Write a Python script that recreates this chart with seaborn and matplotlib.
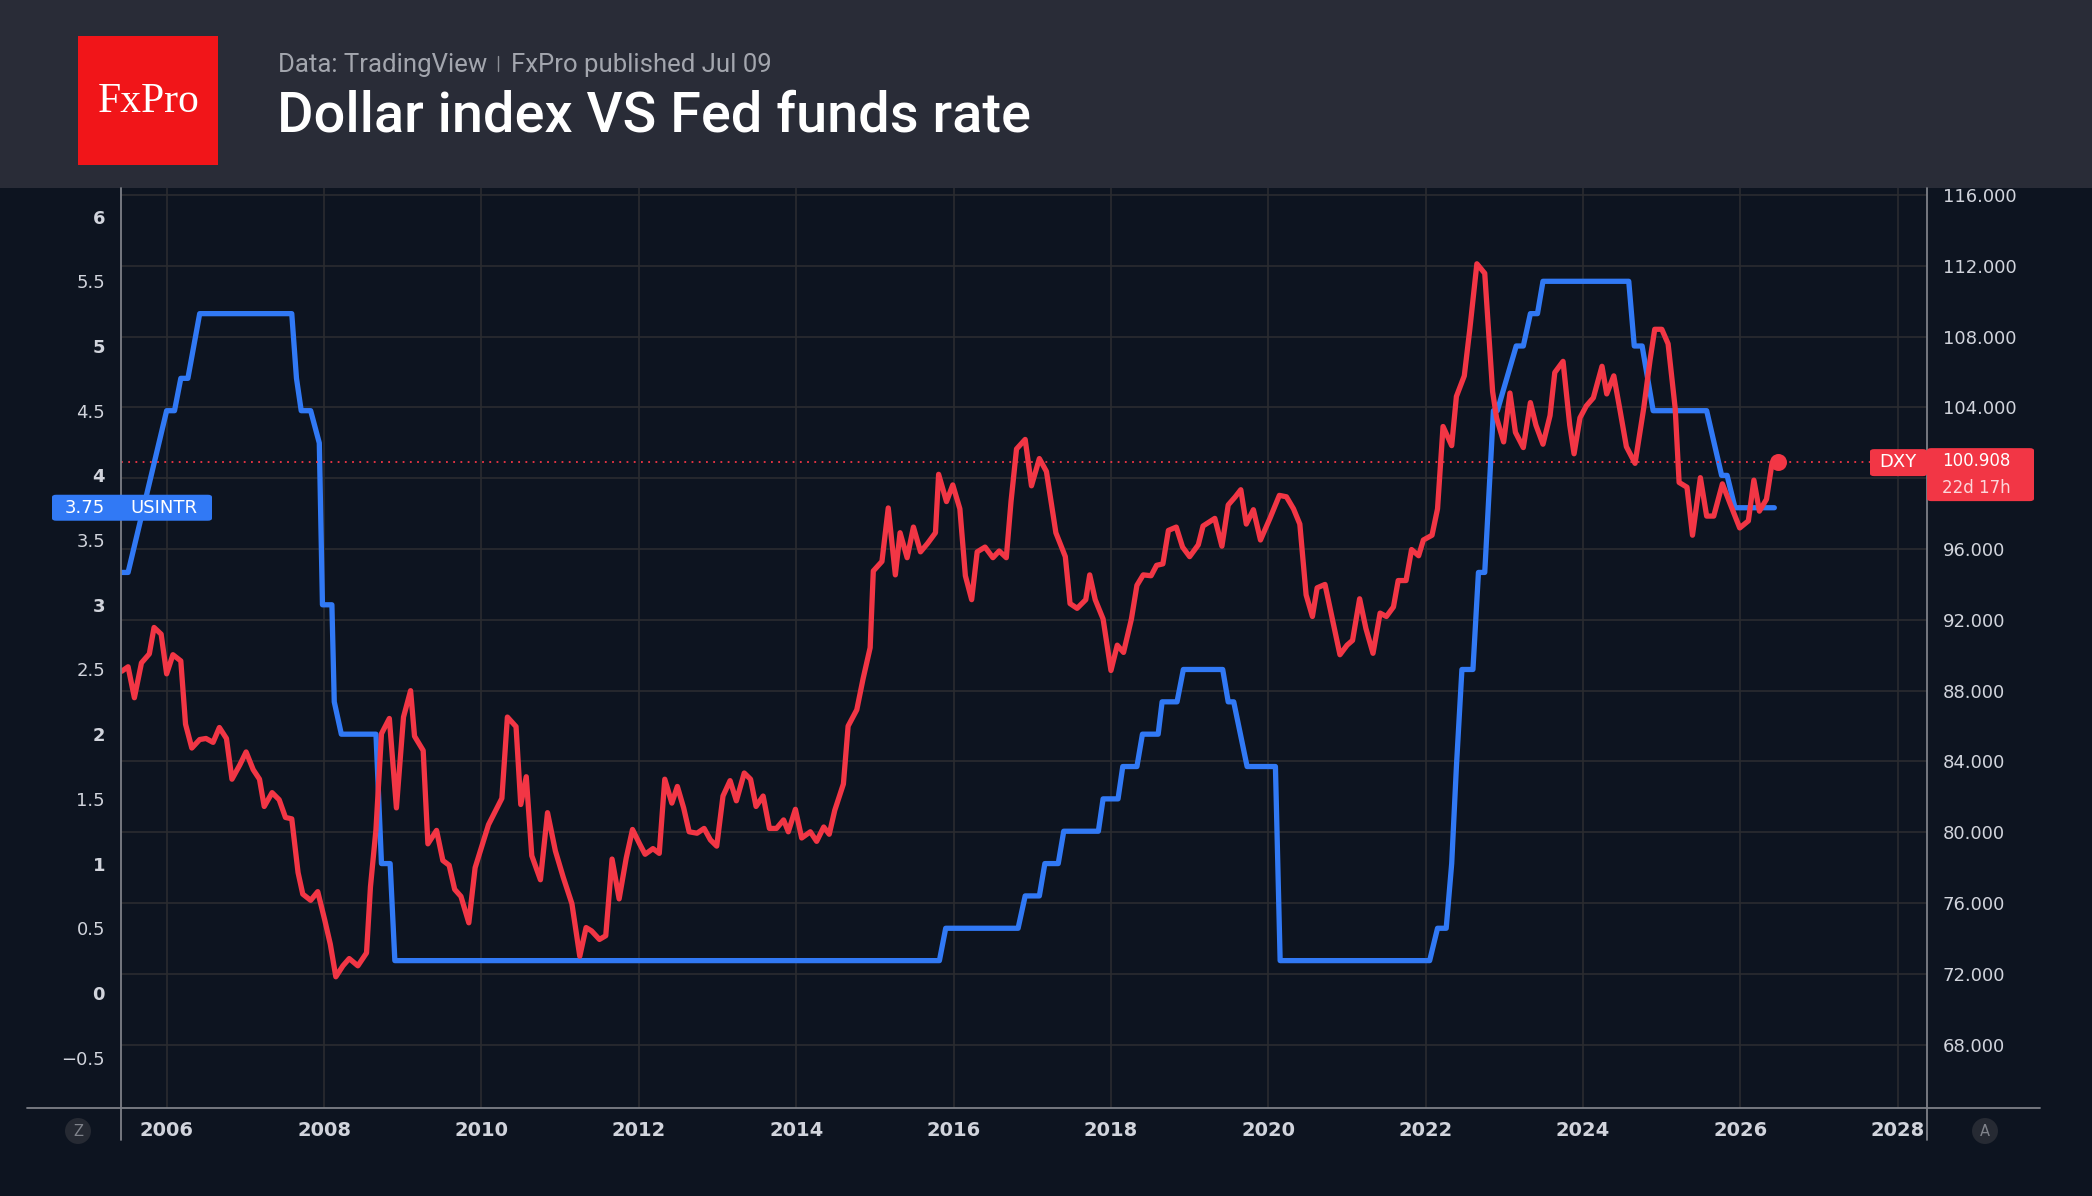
import matplotlib
matplotlib.use("Agg")
import matplotlib.pyplot as plt
import matplotlib.transforms as mtransforms
from matplotlib.patches import Rectangle, FancyBboxPatch, Ellipse
from matplotlib.lines import Line2D
import seaborn as sns

W, H = 2092, 1196
BG = "#0d1420"
HEADER = "#292c37"
GRID = "#2b2c30"
AXLINE = "#7d8088"
TICK = "#d1d4dc"
BLUE = "#3179f5"
RED = "#f23645"

# Fed funds rate (USINTR), corner points
fed_years = [2005.42, 2005.51, 2006.00, 2006.10, 2006.18, 2006.27, 2006.42, 2007.59,
             2007.65, 2007.71, 2007.83, 2007.94, 2007.98, 2008.10, 2008.13, 2008.22,
             2008.66, 2008.73, 2008.84, 2008.90, 2015.82, 2015.90, 2016.82, 2016.91,
             2017.09, 2017.16, 2017.33, 2017.40, 2017.84, 2017.90, 2018.09, 2018.15,
             2018.33, 2018.40, 2018.60, 2018.65, 2018.84, 2018.92, 2019.42, 2019.49,
             2019.56, 2019.73, 2020.09, 2020.15, 2022.05, 2022.15, 2022.26, 2022.33,
             2022.39, 2022.46, 2022.60, 2022.67, 2022.75, 2022.86, 2022.91, 2023.15,
             2023.24, 2023.33, 2023.42, 2023.49, 2024.58, 2024.65, 2024.75, 2024.89,
             2025.57, 2025.76, 2025.83, 2025.93, 2026.43]
fed_rate = [3.25, 3.25, 4.50, 4.50, 4.75, 4.75, 5.25, 5.25,
            4.75, 4.50, 4.50, 4.25, 3.00, 3.00, 2.25, 2.00,
            2.00, 1.00, 1.00, 0.25, 0.25, 0.50, 0.50, 0.75,
            0.75, 1.00, 1.00, 1.25, 1.25, 1.50, 1.50, 1.75,
            1.75, 2.00, 2.00, 2.25, 2.25, 2.50, 2.50, 2.25,
            2.25, 1.75, 1.75, 0.25, 0.25, 0.50, 0.50, 1.00,
            1.75, 2.50, 2.50, 3.25, 3.25, 4.50, 4.50, 5.00,
            5.00, 5.25, 5.25, 5.50, 5.50, 5.00, 5.00, 4.50,
            4.50, 4.00, 4.00, 3.75, 3.75]

# Dollar index (DXY)
dxy_years = [2005.43, 2005.51, 2005.59, 2005.68, 2005.78, 2005.84, 2005.93, 2006.00, 2006.08, 2006.18,
             2006.24, 2006.32, 2006.42, 2006.50, 2006.59, 2006.67, 2006.76, 2006.83, 2006.93, 2007.01,
             2007.10, 2007.18, 2007.24, 2007.34, 2007.43, 2007.51, 2007.59, 2007.67, 2007.73, 2007.83,
             2007.92, 2008.01, 2008.08, 2008.15, 2008.24, 2008.32, 2008.43, 2008.54, 2008.59, 2008.66,
             2008.73, 2008.83, 2008.92, 2009.01, 2009.10, 2009.15, 2009.26, 2009.32, 2009.43, 2009.51,
             2009.59, 2009.66, 2009.74, 2009.84, 2009.92, 2009.99, 2010.09, 2010.26, 2010.33, 2010.44,
             2010.50, 2010.57, 2010.64, 2010.75, 2010.84, 2010.94, 2011.04, 2011.15, 2011.25, 2011.33,
             2011.40, 2011.50, 2011.58, 2011.66, 2011.75, 2011.84, 2011.92, 2012.01, 2012.08, 2012.18,
             2012.26, 2012.33, 2012.42, 2012.49, 2012.57, 2012.64, 2012.74, 2012.83, 2012.91, 2012.99,
             2013.07, 2013.16, 2013.24, 2013.34, 2013.42, 2013.49, 2013.58, 2013.66, 2013.75, 2013.84,
             2013.90, 2013.99, 2014.07, 2014.18, 2014.26, 2014.35, 2014.42, 2014.49, 2014.60, 2014.66,
             2014.77, 2014.85, 2014.94, 2014.98, 2015.09, 2015.17, 2015.26, 2015.32, 2015.41, 2015.49,
             2015.58, 2015.67, 2015.77, 2015.81, 2015.91, 2015.99, 2016.08, 2016.15, 2016.23, 2016.30,
             2016.40, 2016.50, 2016.58, 2016.67, 2016.73, 2016.80, 2016.91, 2016.99, 2017.09, 2017.18,
             2017.30, 2017.42, 2017.48, 2017.57, 2017.68, 2017.73, 2017.80, 2017.90, 2018.00, 2018.08,
             2018.16, 2018.26, 2018.33, 2018.41, 2018.51, 2018.58, 2018.66, 2018.73, 2018.83, 2018.91,
             2019.00, 2019.11, 2019.17, 2019.32, 2019.41, 2019.49, 2019.58, 2019.65, 2019.72, 2019.81,
             2019.90, 2020.02, 2020.14, 2020.23, 2020.32, 2020.40, 2020.48, 2020.56, 2020.62, 2020.72,
             2020.82, 2020.91, 2021.00, 2021.07, 2021.16, 2021.24, 2021.33, 2021.42, 2021.50, 2021.59,
             2021.65, 2021.75, 2021.82, 2021.91, 2021.97, 2022.08, 2022.15, 2022.22, 2022.33, 2022.39,
             2022.49, 2022.56, 2022.65, 2022.75, 2022.85, 2022.90, 2022.99, 2023.07, 2023.14, 2023.24,
             2023.33, 2023.40, 2023.49, 2023.58, 2023.64, 2023.745, 2023.83, 2023.885, 2023.96, 2024.04,
             2024.13, 2024.24, 2024.30, 2024.39, 2024.47, 2024.55, 2024.66, 2024.77, 2024.85, 2024.91,
             2025.00, 2025.08, 2025.17, 2025.22, 2025.32, 2025.39, 2025.49, 2025.57, 2025.66, 2025.77,
             2025.87, 2025.99, 2026.10, 2026.17, 2026.24, 2026.33, 2026.40, 2026.48]
dxy_close = [89.10, 89.35, 87.60, 89.57, 90.08, 91.57, 91.19, 88.95, 90.03, 89.68,
             86.11, 84.76, 85.24, 85.30, 85.08, 85.92, 85.30, 83.00, 83.81, 84.54,
             83.54, 83.00, 81.46, 82.24, 81.84, 80.84, 80.76, 77.73, 76.51, 76.16,
             76.65, 75.03, 73.68, 71.84, 72.46, 72.87, 72.46, 73.19, 76.92, 80.16,
             85.57, 86.43, 81.38, 86.51, 88.00, 85.43, 84.62, 79.35, 80.11, 78.41,
             78.14, 76.78, 76.38, 74.89, 78.00, 79.00, 80.43, 81.92, 86.51, 85.97,
             81.57, 83.14, 78.68, 77.32, 81.11, 78.95, 77.46, 75.97, 73.00, 74.62,
             74.43, 73.95, 74.16, 78.49, 76.24, 78.54, 80.16, 79.35, 78.76, 79.08,
             78.81, 83.00, 81.65, 82.59, 81.38, 80.03, 79.95, 80.22, 79.57, 79.22,
             82.05, 82.92, 81.78, 83.35, 83.00, 81.46, 82.05, 80.22, 80.22, 80.70,
             80.03, 81.30, 79.68, 80.03, 79.49, 80.30, 79.89, 81.24, 82.73, 86.00,
             86.92, 88.67, 90.43, 94.76, 95.30, 98.32, 94.54, 96.92, 95.51, 97.24,
             95.84, 96.32, 96.92, 100.22, 98.68, 99.62, 98.27, 94.49, 93.14, 95.84,
             96.11, 95.51, 95.89, 95.51, 98.68, 101.65, 102.19, 99.57, 101.11, 100.38,
             96.92, 95.57, 92.92, 92.65, 93.14, 94.54, 93.14, 92.05, 89.14, 90.57,
             90.16, 92.05, 93.95, 94.54, 94.49, 95.08, 95.16, 97.05, 97.24, 96.11,
             95.57, 96.24, 97.30, 97.73, 96.16, 98.49, 98.95, 99.35, 97.41, 98.22,
             96.51, 97.73, 99.03, 98.95, 98.27, 97.41, 93.41, 92.19, 93.81, 94.00,
             91.92, 90.03, 90.57, 90.84, 93.19, 91.51, 90.11, 92.38, 92.19, 92.73,
             94.22, 94.22, 95.97, 95.62, 96.51, 96.78, 98.27, 102.92, 101.84, 104.62,
             105.78, 108.41, 112.11, 111.57, 104.89, 103.41, 102.05, 104.81, 102.59, 101.73,
             104.27, 103.00, 101.92, 103.54, 105.97, 106.60, 103.00, 101.38, 103.41, 104.08,
             104.54, 106.32, 104.76, 105.78, 103.81, 101.78, 100.84, 103.95, 106.65, 108.41,
             108.41, 107.59, 103.95, 99.76, 99.49, 96.78, 100.03, 97.86, 97.86, 99.68,
             98.54, 97.19, 97.59, 99.89, 98.14, 98.81, 100.84, 100.908]

year_ticks = list(range(2006, 2029, 2))
rate_ticks = [6, 5.5, 5, 4.5, 4, 3.5, 3, 2.5, 2, 1.5, 1, 0.5, 0, -0.5]
rate_labels = ["6", "5.5", "5", "4.5", "4", "3.5", "3", "2.5", "2", "1.5", "1", "0.5", "0", "\u22120.5"]
dxy_ticks = list(range(68, 117, 4))
dxy_labels = [f"{v:.3f}" for v in dxy_ticks]

sns.set_theme(style="dark")
plt.rcParams["font.family"] = ["DejaVu Sans"]


def fx(px):
    return px / W


def fy(py):
    return 1 - py / H


fig = plt.figure(figsize=(W / 100, H / 100), dpi=100, facecolor=BG)

# header band + logo
fig.add_artist(Rectangle((0, fy(188)), 1, 188 / H, transform=fig.transFigure,
                         facecolor=HEADER, edgecolor="none", zorder=0))
fig.add_artist(Rectangle((fx(78), fy(165)), 140 / W, 129 / H, transform=fig.transFigure,
                         facecolor="#f11519", edgecolor="none", zorder=1))
fig.text(fx(149), fy(112), "FxPro", family="Liberation Serif", fontsize=30,
         color="white", ha="center", va="baseline")
fig.text(fx(278), fy(72), "Data: TradingView", family="Roboto", fontsize=18.5,
         color="#a3a6ae", va="baseline")
fig.add_artist(Line2D([fx(498), fx(498)], [fy(56), fy(71)], transform=fig.transFigure,
                      color="#8c8f96", lw=1))
fig.text(fx(511), fy(72), "FxPro published Jul 09", family="Roboto", fontsize=18.5,
         color="#a3a6ae", va="baseline")
fig.text(fx(277), fy(132), "Dollar index VS Fed funds rate", family="Roboto",
         fontweight="medium", fontsize=40.2, color="white", va="baseline")

ax = fig.add_axes([fx(121), fy(1108), (1927 - 121) / W, (1108 - 188) / H])
ax.set_facecolor(BG)
ax2 = ax.twinx()

sns.lineplot(x=fed_years, y=fed_rate, ax=ax, color=BLUE, linewidth=3.8,
             estimator=None, sort=False)
sns.lineplot(x=dxy_years, y=dxy_close, ax=ax2, color=RED, linewidth=3.8,
             estimator=None, sort=False)
sns.scatterplot(x=dxy_years[-1:], y=dxy_close[-1:], ax=ax2, color=RED, s=150,
                linewidth=0, zorder=5)

ax.set_xlim(2005.42, 2028.37)
ax.set_ylim(-0.889, 6.221)
ax2.set_ylim(64.43, 116.39)

ax.set_xticks(year_ticks)
ax.set_xticklabels([str(y) for y in year_ticks], fontweight="bold", fontsize=14, color=TICK)
ax.set_yticks(rate_ticks)
ax.set_yticklabels(rate_labels, fontsize=13, color=TICK)
for lab, v in zip(ax.get_yticklabels(), rate_ticks):
    lab.set_fontweight("bold" if float(v).is_integer() else "normal")
ax2.set_yticks(dxy_ticks)
ax2.set_yticklabels(dxy_labels, fontsize=13, color=TICK)
ax.tick_params(axis="x", length=0, pad=9.5)
ax.tick_params(axis="y", length=0, pad=11.5)
ax2.tick_params(axis="y", length=0, pad=11.5)
ax.set_xlabel("")
ax.set_ylabel("")
ax2.set_ylabel("")
for a in (ax, ax2):
    for s in a.spines.values():
        s.set_visible(False)

# grid: verticals on years, horizontals on DXY ticks (drawn under both lines)
ax.set_axisbelow(True)
ax.xaxis.grid(True, color=GRID, lw=1.2)
ax.yaxis.grid(False)
ax2.grid(False)
blend = mtransforms.blended_transform_factory(ax.transAxes, ax2.transData)
ax.hlines(dxy_ticks, 0, 1, transform=blend, colors=GRID, lw=1.2, zorder=0.5)

# last value dotted line
ax2.hlines(dxy_close[-1], 0, (1870 - 121) / (1927 - 121), transform=ax2.get_yaxis_transform(),
           colors=RED, lw=1.3, linestyles=(0, (1, 3)), zorder=1)

# axis frame lines
for xs, ys in [([121, 121], [188, 1140]), ([1927, 1927], [188, 1140]), ([27, 2040], [1108, 1108])]:
    fig.add_artist(Line2D([fx(x) for x in xs], [fy(y) for y in ys], transform=fig.transFigure,
                          color=AXLINE, lw=1.3, zorder=3))

# price labels
y_rate = H - ax.transData.transform((2020, fed_rate[-1]))[1]
y_dxy = H - ax2.transData.transform((2020, dxy_close[-1]))[1]

fig.add_artist(FancyBboxPatch((fx(52), fy(y_rate + 13)), 160 / W, 26 / H,
                              boxstyle="round,pad=0,rounding_size=0.002", transform=fig.transFigure,
                              facecolor=BLUE, edgecolor="none", zorder=4))
fig.text(fx(105), fy(y_rate), f"{fed_rate[-1]:.2f}", fontsize=13, color="white",
         ha="right", va="center", zorder=5)
fig.text(fx(130), fy(y_rate), "USINTR", fontsize=13, color="white",
         ha="left", va="center", zorder=5)

fig.add_artist(FancyBboxPatch((fx(1870), fy(y_dxy + 14)), 57 / W, 27 / H,
                              boxstyle="round,pad=0,rounding_size=0.002", transform=fig.transFigure,
                              facecolor=RED, edgecolor="none", zorder=4))
fig.add_artist(FancyBboxPatch((fx(1927), fy(y_dxy + 39)), 107 / W, 53 / H,
                              boxstyle="round,pad=0,rounding_size=0.002", transform=fig.transFigure,
                              facecolor=RED, edgecolor="none", zorder=4))
fig.text(fx(1898), fy(y_dxy), "DXY", fontsize=13, color="white",
         ha="center", va="center", zorder=5)
fig.text(fx(1942), fy(y_dxy - 1), f"{dxy_close[-1]:.3f}", fontsize=12,
         color="white", ha="left", va="center", zorder=5)
fig.text(fx(1942), fy(y_dxy + 26), "22d 17h", fontsize=12,
         color="#fcd6da", ha="left", va="center", zorder=5)

# small round buttons on the time axis
for cx, letter in [(78, "Z"), (1985, "A")]:
    fig.add_artist(Ellipse((fx(cx), fy(1131)), 26 / W, 26 / H, transform=fig.transFigure,
                           facecolor="#262a33", edgecolor="none", zorder=4))
    fig.text(fx(cx), fy(1131), letter, fontsize=10.5, color="#80838b",
             ha="center", va="center", zorder=5)

fig.savefig("out.png", dpi=100, facecolor=BG)
